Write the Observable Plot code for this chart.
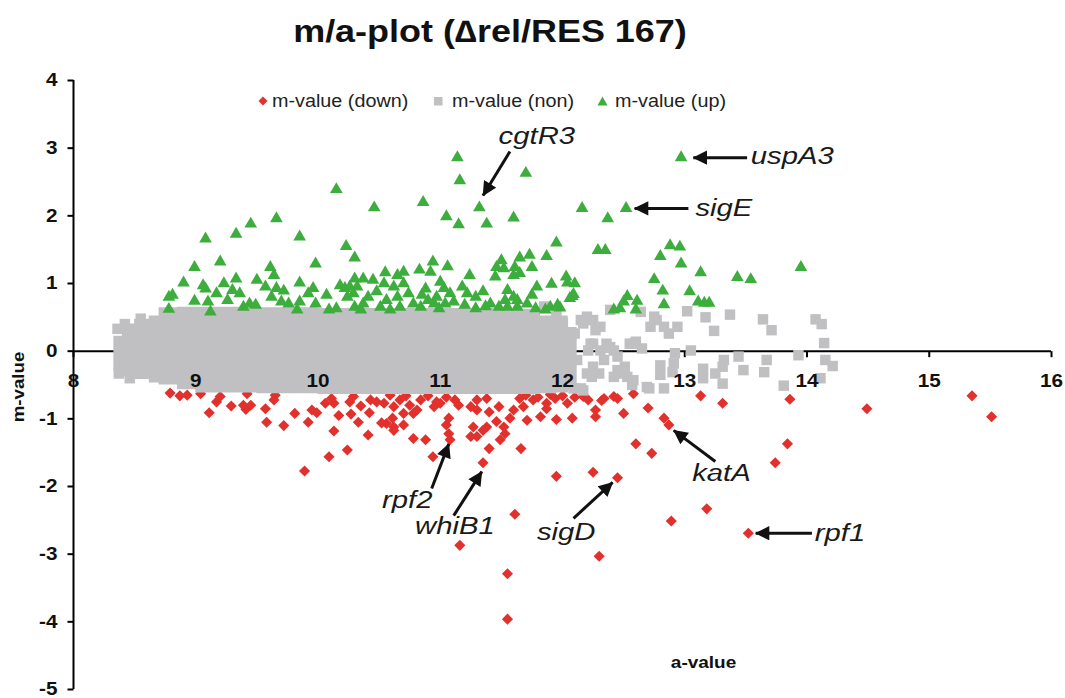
<!DOCTYPE html>
<html><head><meta charset="utf-8">
<script src="https://cdn.jsdelivr.net/npm/d3@7"></script>
<script src="https://cdn.jsdelivr.net/npm/@observablehq/plot@0.6"></script>
<style>
body{margin:0;background:#fff;font-family:"Liberation Sans",Arial,sans-serif;}
#wrap{position:relative;width:1065px;height:698px;overflow:hidden;background:#fff;}
#title{position:absolute;left:490px;top:16px;font-weight:bold;font-size:31px;line-height:31px;white-space:nowrap;transform:translateX(-50%) scaleX(1.16);color:#111;}
#chart{position:absolute;left:0;top:70px;}
#ylab{position:absolute;left:18px;top:387px;font-weight:bold;font-size:17px;line-height:17px;white-space:nowrap;color:#111;transform:translate(-50%,-50%) rotate(-90deg) scaleX(1.1);}
.leg{position:absolute;top:91px;font-size:17.5px;line-height:20px;white-space:nowrap;color:#222;}
.leg span{display:inline-block;transform:scaleX(1.13);transform-origin:left center;}
.mk{position:absolute;top:95px;}
</style></head>
<body>
<div id="wrap">
  <div id="title">m/a-plot (∆rel/RES 167)</div>
  <div id="chart"></div>
  <div id="ylab">m-value</div>
  <svg class="mk" style="left:258px" width="10" height="12"><path d="M5,1.5L9.5,6L5,10.5L0.5,6Z" fill="#e2312d"/></svg>
  <div class="leg" style="left:272px"><span>m-value (down)</span></div>
  <svg class="mk" style="left:433px" width="10" height="12"><rect x="1" y="2" width="8.5" height="8.5" fill="#c0c0c3"/></svg>
  <div class="leg" style="left:452px"><span>m-value (non)</span></div>
  <svg class="mk" style="left:597px" width="11" height="12"><path d="M5.5,1.5L10.5,10.5L0.5,10.5Z" fill="#3dae3d"/></svg>
  <div class="leg" style="left:615px"><span>m-value (up)</span></div>
</div>
<script>
// ---------- data ----------
const xTicks = [8, 9, 10, 11, 12, 13, 14, 15, 16];
const yTicks = [-5, -4, -3, -2, -1, 0, 1, 2, 3, 4];

// up-regulated (green triangles)
const upA = [10.15,9.66,9.45,9.33,9.08,9.85,10.23,10.30,9.20,8.99,9.98,9.61,9.64,8.90,9.33,9.23,9.50,9.85,9.06,9.08,
  8.81,8.78,8.78,8.99,9.10,9.12,9.17,9.26,9.30,9.36,9.39,9.44,9.49,9.57,9.62,9.66,9.72,9.70,9.76,9.83,
  9.85,9.92,9.96,9.98,10.07,10.09,10.15,10.18,10.22,10.24,10.30,10.32,10.30,11.14,11.16,11.70,10.46,10.86,11.05,11.15,
  11.32,11.38,11.60,12.16,12.37,11.95,12.29,12.35,11.73,11.87,11.65,11.50,11.75,11.61,11.46,11.52,11.06,10.94,10.83,10.92,
  11.24,10.55,10.70,10.65,10.37,10.45,11.45,11.60,11.65,11.91,12.03,12.10,11.79,11.75,12.08,11.96,11.86,10.54,10.62,10.70,
  10.74,10.65,10.56,10.51,10.67,10.78,10.85,10.84,10.90,11.03,11.08,10.97,11.04,10.95,11.11,11.22,11.29,11.35,11.41,11.29,
  11.20,11.37,11.55,11.60,11.53,11.63,11.71,11.63,11.55,10.26,10.29,10.37,10.35,10.59,10.99,11.48,11.78,11.90,12.88,12.96,
  12.80,12.97,13.13,13.43,13.54,13.95,12.75,12.82,13.04,12.83,13.11,13.16,13.20,12.53,12.61,12.50,12.47,12.42,12.60,12.04,
  12.09,12.06,11.98,12.97,12.52,10.41,10.48,10.88,11.00,11.18];
const upM = [2.39,1.96,1.88,1.73,1.66,1.69,1.55,1.38,1.32,1.24,1.29,1.24,1.12,1.01,1.07,1.00,1.05,1.01,0.97,0.92,
  0.83,0.80,0.62,0.74,0.73,0.58,0.85,0.75,0.90,0.85,0.65,0.70,0.68,0.95,0.80,0.93,0.89,0.73,0.70,0.61,
  0.73,0.85,0.93,0.70,0.83,0.61,0.63,0.97,0.93,0.80,1.07,0.95,0.65,2.86,2.52,2.63,2.12,2.20,1.99,1.87,
  2.12,1.88,1.97,2.11,1.96,1.60,1.49,1.49,1.42,1.40,1.38,1.34,1.24,1.24,1.24,1.22,1.25,1.32,1.20,1.17,
  1.12,1.16,1.17,1.12,1.07,1.05,1.10,1.12,1.15,0.99,1.10,1.00,0.95,0.83,0.81,0.68,0.61,1.00,0.95,1.00,
  0.85,0.80,0.75,0.65,0.65,0.70,0.83,0.65,0.75,0.93,0.85,0.80,0.70,0.70,0.73,0.85,0.80,0.88,0.70,0.63,
  0.68,0.66,0.90,0.80,0.75,0.75,0.70,0.65,0.65,0.95,0.85,0.70,0.61,0.61,0.63,0.65,0.63,0.65,1.56,1.54,
  1.40,1.29,1.16,1.09,1.06,1.24,1.06,0.89,0.88,0.69,0.73,0.71,0.71,0.81,0.74,0.73,0.63,0.61,0.61,1.01,
  0.84,0.78,0.64,2.86,2.11,0.80,0.88,0.92,1.02,0.95];

// down-regulated (red diamonds)
const downA = [8.79,8.87,8.93,9.04,9.11,9.17,9.20,9.29,9.39,9.41,9.45,9.42,9.57,9.58,9.64,9.65,9.72,9.81,9.92,9.95,
  9.99,9.89,10.09,10.24,10.13,10.06,10.13,10.11,10.17,10.27,10.26,10.29,10.35,10.33,10.41,10.42,10.43,10.48,10.54,10.52,
  10.56,10.61,10.62,10.59,11.07,11.05,11.07,11.08,10.94,10.78,10.88,10.70,10.62,11.35,11.40,11.27,11.25,11.30,11.35,11.38,
  11.46,11.53,11.49,11.57,11.52,11.30,11.40,11.48,11.66,11.61,11.16,11.55,11.55,10.97,10.95,11.00,10.67,10.75,10.81,10.84,
  10.62,10.70,10.78,11.60,11.68,11.76,11.82,11.71,11.87,11.25,11.30,11.38,13.13,13.31,13.86,14.49,15.35,15.51,12.83,12.87,
  12.70,12.50,12.45,12.32,12.27,12.27,12.21,12.08,11.95,12.04,11.94,11.87,12.60,12.73,13.84,13.74,11.95,12.25,12.45,13.18,
  12.89,13.52,12.30,10.90,11.05,11.12,10.72,11.15,11.70,11.90,12.00,12.10,12.17,12.34,12.42,12.58,11.65,11.80];
const downM = [-0.62,-0.66,-0.65,-0.63,-0.91,-0.75,-0.67,-0.81,-0.80,-0.86,-0.80,-0.63,-0.85,-1.05,-0.72,-0.65,-1.10,-0.92,-1.05,-0.87,
  -0.91,-1.77,-1.56,-1.46,-1.18,-0.77,-0.77,-0.70,-0.95,-0.93,-0.75,-0.67,-0.81,-1.05,-1.24,-0.91,-0.72,-0.75,-0.77,-1.06,
  -1.07,-0.99,-1.17,-0.65,-0.99,-1.09,-1.22,-1.31,-1.56,-1.29,-1.31,-1.09,-1.12,-1.65,-1.44,-1.12,-1.26,-1.26,-1.17,-1.12,
  -1.04,-1.22,-1.31,-0.99,-1.12,-0.87,-0.90,-0.82,-1.44,-2.41,-2.87,-3.29,-3.96,-0.75,-0.82,-0.77,-0.72,-0.80,-0.87,-0.72,
  -0.82,-0.92,-0.92,-0.87,-0.82,-0.72,-0.97,-1.02,-0.77,-0.82,-0.72,-0.70,-0.66,-0.77,-0.71,-0.85,-0.66,-0.97,-0.99,-1.09,
  -0.84,-0.92,-0.70,-0.73,-0.87,-0.97,-0.72,-0.99,-1.01,-0.77,-0.70,-0.85,-1.37,-1.51,-1.37,-1.65,-1.85,-1.79,-1.87,-2.33,
  -2.51,-2.69,-3.03,-0.66,-0.68,-0.72,-0.66,-0.80,-0.65,-0.64,-0.66,-0.68,-0.67,-0.70,-0.67,-0.63,-0.70,-0.68];

// non-regulated: dense core (outline) ...
const coreA      = [8.33, 8.40, 8.50, 8.62, 8.70, 8.85, 9.00, 9.50, 10.00, 10.50, 11.00, 11.50, 11.82, 11.95, 12.05, 12.12];
const coreTop    = [0.22, 0.40, 0.47, 0.52, 0.64, 0.65, 0.65, 0.64, 0.63, 0.63, 0.63, 0.62, 0.52, 0.48, 0.35, 0.35];
const coreBottom = [-0.30,-0.38,-0.42,-0.47,-0.50,-0.57,-0.62,-0.63,-0.64,-0.64,-0.64,-0.64,-0.63,-0.62,-0.58,-0.58];
// ... and the scattered non-regulated points
const nonA = [13.02,13.17,13.37,13.64,13.71,13.24,14.07,14.12,14.14,13.93,14.15,14.21,14.11,13.81,13.67,13.65,13.44,13.48,13.32,13.31,
  13.31,13.25,13.15,13.15,13.05,12.92,12.91,12.90,12.80,12.80,12.83,12.71,12.57,12.94,12.87,12.83,12.77,12.72,12.75,12.60,
  12.55,12.65,12.39,12.64,12.51,12.46,12.53,12.42,12.36,12.31,12.25,12.21,12.34,12.25,12.20,12.24,12.30,12.25,12.31,12.20,
  12.15,12.10,12.06,12.04,12.15,12.09,12.17,12.27,12.23,12.39,12.45,12.58,12.45,12.42,12.69,12.58,12.17,11.93,12.04,12.12,
  8.36,8.42,8.37,8.46,8.55,11.85,11.95,12.00];
const nonM = [0.59,0.50,0.54,0.47,0.31,0.30,0.47,0.40,0.12,-0.06,-0.13,-0.22,-0.40,-0.51,-0.13,-0.31,-0.08,-0.28,-0.13,-0.23,
  -0.48,-0.33,-0.26,-0.40,0.01,-0.03,-0.18,-0.31,-0.21,-0.35,-0.55,-0.55,-0.50,0.36,0.26,0.36,0.46,0.36,0.51,0.14,
  0.11,0.04,0.61,0.58,-0.23,-0.33,-0.38,0.01,0.11,0.01,0.11,0.01,-0.13,-0.23,-0.33,-0.38,-0.33,0.46,0.36,0.51,
  0.46,0.26,0.16,0.26,-0.55,-0.55,0.41,0.31,0.11,0.06,-0.08,0.11,-0.28,-0.38,-0.53,-0.43,-0.58,-0.33,-0.28,-0.13,
  0.33,0.40,-0.33,-0.40,0.48,0.66,0.55,0.45];

// annotations
const annLabel = ["cgtR3", "uspA3", "sigE", "katA", "rpf1", "sigD", "whiB1", "rpf2"];
const annTextA = [11.79, 13.88, 13.32, 13.30, 14.27, 12.03, 11.12, 10.73];
const annTextM = [3.17, 2.88, 2.11, -1.80, -2.69, -2.67, -2.59, -2.20];
const annFromA = [11.57, 13.51, 13.03, 13.25, 14.04, 12.09, 11.11, 10.93];
const annFromM = [2.95, 2.86, 2.11, -1.63, -2.69, -2.47, -2.43, -2.03];
const annToA   = [11.35, 13.07, 12.59, 12.91, 13.58, 12.41, 11.34, 11.07];
const annToM   = [2.30, 2.86, 2.11, -1.17, -2.69, -1.94, -1.78, -1.37];

// ---------- build ----------
const RED = "#e2312d", GREY = "#c0c0c3", GREEN = "#3dae3d";
const up = upA.map((a, i) => ({a, m: upM[i]}));
const down = downA.map((a, i) => ({a, m: downM[i]}));
const non = nonA.map((a, i) => ({a, m: nonM[i]}));
const core = coreA.map((a, i) => ({a, top: coreTop[i], bottom: coreBottom[i]}));
const ann = annLabel.map((t, i) => ({t, ta: annTextA[i], tm: annTextM[i], fa: annFromA[i], fm: annFromM[i], oa: annToA[i], om: annToM[i]}));

const tickDown = {draw(ctx) { ctx.moveTo(0, 0); ctx.lineTo(0, 6); }};
const tickLeft = {draw(ctx) { ctx.moveTo(0, 0); ctx.lineTo(-6, 0); }};
const x0 = xTicks[0];

const chart = Plot.plot({
  width: 1065, height: 628,
  marginLeft: 73, marginRight: 14, marginTop: 10, marginBottom: 9,
  style: {fontFamily: "'Liberation Sans', Arial, sans-serif", background: "white", overflow: "visible"},
  x: {domain: [xTicks[0], xTicks[xTicks.length - 1]], axis: null},
  y: {domain: [yTicks[0], yTicks[yTicks.length - 1]], axis: null},
  marks: [
    Plot.ruleY([0], {stroke: "#000", strokeWidth: 2}),
    Plot.ruleX([x0], {stroke: "#000", strokeWidth: 2}),
    Plot.dot(xTicks, {x: d => d, y: () => 0, symbol: tickDown, fill: "none", stroke: "#000", strokeWidth: 2}),
    Plot.dot(yTicks, {x: () => x0, y: d => d, symbol: tickLeft, fill: "none", stroke: "#000", strokeWidth: 2}),
    Plot.dot(down, {x: "a", y: "m", symbol: "diamond2", r: 5.0, fill: RED, stroke: "none"}),
    Plot.areaY(core, {x: "a", y1: "bottom", y2: "top", fill: GREY, curve: "step-after"}),
    Plot.dot(non, {x: "a", y: "m", symbol: "square", r: 5.9, fill: GREY, stroke: "none"}),
    Plot.dot(up, {x: "a", y: "m", symbol: "triangle", r: 4.7, fill: GREEN, stroke: "none"}),
    Plot.text(xTicks, {x: d => d, y: () => 0, text: d => String(d), dy: 30, fontWeight: "bold", fontSize: 18, fill: "#111"}),
    Plot.text(yTicks, {x: () => x0, y: d => d, text: d => String(d), dx: -16, textAnchor: "end", fontWeight: "bold", fontSize: 18, fill: "#111"}),
    Plot.text(["a-value"], {frameAnchor: "bottom", dx: 141, dy: -27, textAnchor: "middle", lineAnchor: "middle", fontWeight: "bold", fontSize: 16.5, fill: "#111"}),
    Plot.link(ann, {x1: "fa", y1: "fm", x2: "oa", y2: "om", stroke: "#111", strokeWidth: 3}),
    Plot.text(ann, {x: "ta", y: "tm", text: "t", fontStyle: "italic", fontSize: 24, fill: "#1a1a1a"})
  ]
});
document.getElementById("chart").appendChild(chart);

// arrow heads (filled, like the original)
const ns = "http://www.w3.org/2000/svg";
const defs = document.createElementNS(ns, "defs");
const marker = document.createElementNS(ns, "marker");
marker.setAttribute("id", "ah");
marker.setAttribute("viewBox", "0 0 10 10");
marker.setAttribute("refX", "9.5");
marker.setAttribute("refY", "5");
marker.setAttribute("markerWidth", "5");
marker.setAttribute("markerHeight", "4.8");
marker.setAttribute("orient", "auto");
marker.setAttribute("markerUnits", "strokeWidth");
const mp = document.createElementNS(ns, "path");
mp.setAttribute("d", "M0,0L10,5L0,10Z");
mp.setAttribute("fill", "#111");
marker.appendChild(mp);
defs.appendChild(marker);
chart.insertBefore(defs, chart.firstChild);
chart.querySelectorAll('g[aria-label="link"] path').forEach(p => p.setAttribute("marker-end", "url(#ah)"));

// the original's lettering is horizontally wide: stretch text a little
chart.querySelectorAll("text").forEach(t => {
  const g = t.closest("g");
  const italic = g && g.getAttribute("font-style") === "italic";
  const k = italic ? 1.22 : 1.15;
  const tr = t.getAttribute("transform");
  if (tr) {
    if (tr.includes("rotate")) return;
    t.setAttribute("transform", tr + ` scale(${k},1)`);
  } else {
    t.style.transformBox = "fill-box";
    t.style.transformOrigin = "center";
    t.style.transform = `scaleX(${k})`;
  }
});
</script>
</body></html>
